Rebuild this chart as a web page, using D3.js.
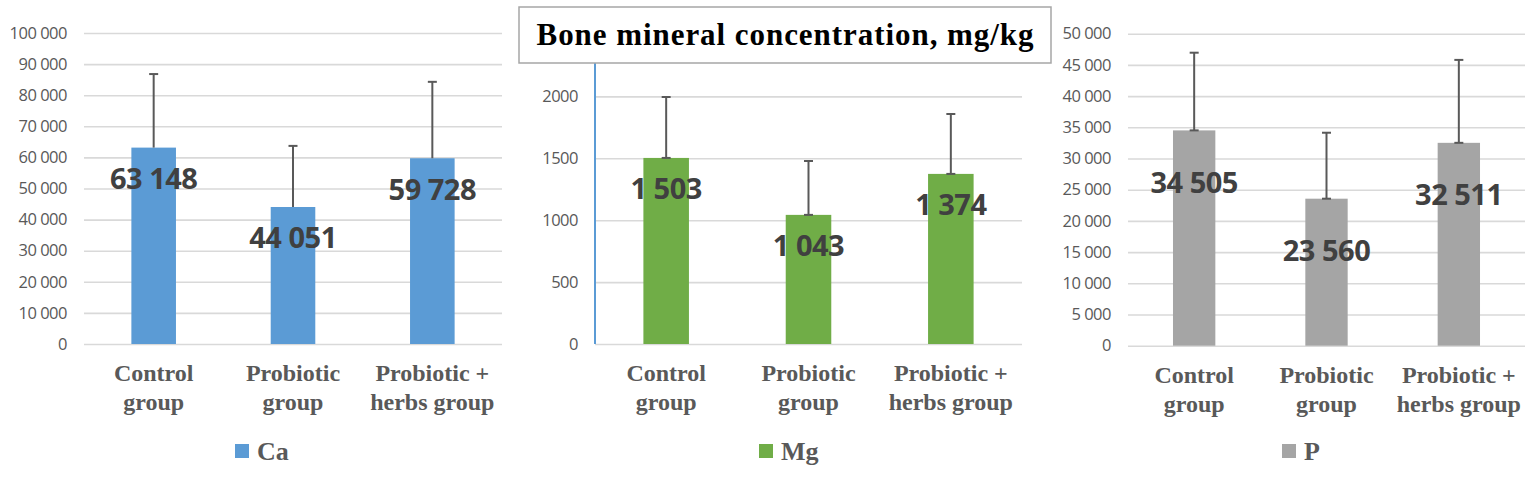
<!DOCTYPE html>
<html>
<head>
<meta charset="utf-8">
<script src="https://cdn.jsdelivr.net/npm/d3@7"></script>
<style>
  body { margin: 0; background: #fff; }
  svg { display: block; }
</style>
</head>
<body>
<div id="chart"></div>
<script>
// groups (x axis, two lines each)
const groups = ["Control group", "Probiotic group", "Probiotic + herbs group"];
const groupLines = [["Control", "group"], ["Probiotic", "group"], ["Probiotic +", "herbs group"]];

// means and upper error per mineral
const caValues = [63148, 44051, 59728];
const caErrors = [23650, 19650, 24570];
const mgValues = [1503, 1043, 1374];
const mgErrors = [492, 435, 484];
const pValues = [34505, 23560, 32511];
const pErrors = [12450, 10570, 13290];

// tick labels (the Mg axis runs to 2500, its top tick sits under the title box)
const caTicks = [0, 10000, 20000, 30000, 40000, 50000, 60000, 70000, 80000, 90000, 100000];
const mgTicks = [0, 500, 1000, 1500, 2000];
const pTicks = [0, 5000, 10000, 15000, 20000, 25000, 30000, 35000, 40000, 45000, 50000];

const title = "Bone mineral concentration, mg/kg";

const width = 1539, height = 477;
const svg = d3.select("#chart").append("svg")
  .attr("width", width)
  .attr("height", height);

const spaced = d3.format(",");
const withSpace = v => spaced(v).replace(/,/g, " ");

// layout of the three panels
const panels = [
  { name: "Ca", values: caValues, errors: caErrors, ticks: caTicks, max: 100000, color: "#5B9BD5",
    x0: 84, x1: 502, yBottom: 344, yTop: 33, tickFmt: withSpace, labelOff: 31, legendX: 235, axisLine: false, lowCap: false },
  { name: "Mg", values: mgValues, errors: mgErrors, ticks: mgTicks, max: 2500, color: "#70AD47",
    x0: 595, x1: 1022, yBottom: 344, yTop: 34.5, tickFmt: d => String(d), labelOff: 31, legendX: 759, axisLine: true, lowCap: true },
  { name: "P", values: pValues, errors: pErrors, ticks: pTicks, max: 50000, color: "#A5A5A5",
    x0: 1128, x1: 1525, yBottom: 345.7, yTop: 33.7, tickFmt: withSpace, labelOff: 52, legendX: 1282, axisLine: false, lowCap: true }
];

panels.forEach(p => {
  const g = svg.append("g");

  const x = d3.scaleBand()
    .domain(groups)
    .range([p.x0, p.x1])
    .paddingInner(0.68)
    .paddingOuter(0.34);

  const y = d3.scaleLinear()
    .domain([0, p.max])
    .range([p.yBottom, p.yTop]);

  // gridlines + tick labels
  const axis = g.append("g")
    .attr("transform", `translate(${p.x0},0)`)
    .call(d3.axisLeft(y).tickValues(p.ticks).tickFormat(p.tickFmt)
      .tickSize(-(p.x1 - p.x0)).tickPadding(17));
  axis.select(".domain").remove();
  axis.selectAll(".tick line").attr("stroke", "#D9D9D9").attr("stroke-width", 1.6);
  axis.selectAll(".tick text")
    .attr("fill", "#595959")
    .style("font-family", "'Open Sans', sans-serif")
    .style("font-size", "16.5px")
    .style("letter-spacing", "-0.5px");

  if (p.axisLine) {
    g.append("line")
      .attr("x1", p.x0).attr("x2", p.x0)
      .attr("y1", y(0)).attr("y2", y(p.max))
      .attr("stroke", "#5B9BD5").attr("stroke-width", 2);
  }

  // bars
  g.selectAll("rect.bar")
    .data(p.values)
    .enter()
    .append("rect")
    .attr("class", "bar")
    .attr("x", (d, i) => x(groups[i]))
    .attr("y", d => y(d))
    .attr("width", x.bandwidth())
    .attr("height", d => y(0) - y(d))
    .attr("fill", p.color);

  // error bars (plus side)
  const cx = i => x(groups[i]) + x.bandwidth() / 2;
  const err = g.selectAll("g.err")
    .data(p.values)
    .enter()
    .append("g")
    .attr("stroke", "#595959")
    .attr("stroke-width", 2);
  err.append("line")
    .attr("x1", (d, i) => cx(i)).attr("x2", (d, i) => cx(i))
    .attr("y1", d => y(d)).attr("y2", (d, i) => y(d + p.errors[i]));
  err.append("line")
    .attr("x1", (d, i) => cx(i) - 4.5).attr("x2", (d, i) => cx(i) + 4.5)
    .attr("y1", (d, i) => y(d + p.errors[i])).attr("y2", (d, i) => y(d + p.errors[i]));
  if (p.lowCap) {
    err.append("line")
      .attr("x1", (d, i) => cx(i) - 4.5).attr("x2", (d, i) => cx(i) + 4.5)
      .attr("y1", d => y(d)).attr("y2", d => y(d));
  }

  // value labels
  g.selectAll("text.val")
    .data(p.values)
    .enter()
    .append("text")
    .attr("x", (d, i) => cx(i))
    .attr("y", d => y(d) + p.labelOff)
    .attr("dy", "0.36em")
    .attr("text-anchor", "middle")
    .attr("fill", "#404040")
    .style("font-family", "'Open Sans', sans-serif")
    .style("font-weight", "bold")
    .style("font-size", "29px")
    .style("letter-spacing", "-0.5px")
    .text(d => withSpace(d));

  // category labels
  const cat = g.selectAll("text.cat")
    .data(groupLines)
    .enter()
    .append("text")
    .attr("text-anchor", "middle")
    .attr("fill", "#595959")
    .style("font-family", "'Liberation Serif', serif")
    .style("font-weight", "bold")
    .style("font-size", "24px");
  cat.selectAll("tspan")
    .data((d, i) => d.map(t => ({ t, i })))
    .enter()
    .append("tspan")
    .attr("x", d => cx(d.i))
    .attr("y", (d, j) => p.yBottom + 37 + j * 29)
    .text(d => d.t);

  // legend
  g.append("rect")
    .attr("x", p.legendX).attr("y", 444)
    .attr("width", 14).attr("height", 14)
    .attr("fill", p.color);
  g.append("text")
    .attr("x", p.legendX + 22).attr("y", 460)
    .attr("fill", "#595959")
    .style("font-family", "'Liberation Serif', serif")
    .style("font-weight", "bold")
    .style("font-size", "26px")
    .text(p.name);
});

// title box over the middle panel
svg.append("rect")
  .attr("x", 519).attr("y", 7)
  .attr("width", 532).attr("height", 56)
  .attr("fill", "#fff")
  .attr("stroke", "#A6A6A6")
  .attr("stroke-width", 1.5);
svg.append("text")
  .attr("x", 785).attr("y", 45)
  .attr("text-anchor", "middle")
  .attr("fill", "#000")
  .attr("textLength", 497)
  .attr("lengthAdjust", "spacing")
  .style("font-family", "'Liberation Serif', serif")
  .style("font-weight", "bold")
  .style("font-size", "31px")
  .text(title);
</script>
</body>
</html>
